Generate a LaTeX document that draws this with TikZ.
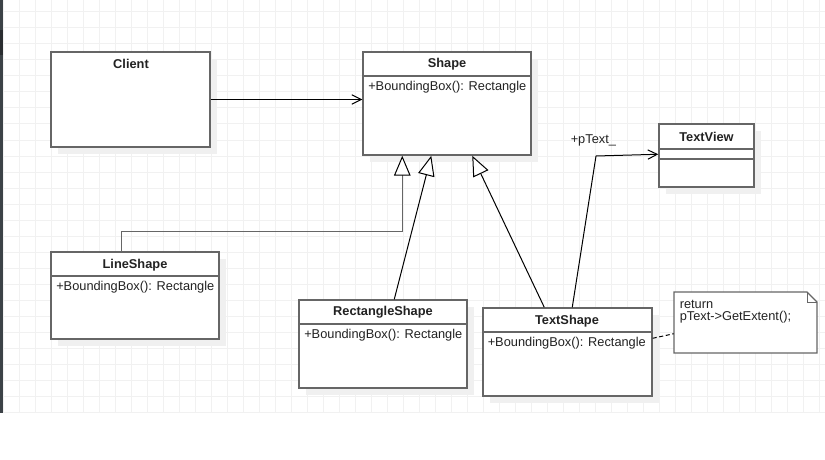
\documentclass[tikz,border=0pt]{standalone}
\usepackage{fontspec}
\setmainfont{Liberation Sans}
\usetikzlibrary{arrows.meta,calc,fit,shadows}
\definecolor{gridc}{HTML}{F1F1F1}
\definecolor{boxc}{HTML}{666666}
\definecolor{stripc}{HTML}{3C4247}
\definecolor{stripd}{HTML}{2A2D30}
\definecolor{txtc}{HTML}{222222}
\tikzset{
  umlbox/.style={draw=boxc, line width=1.1pt, fill=white, inner sep=0pt,
    drop shadow={shadow xshift=5.25pt, shadow yshift=-5.25pt, fill=black!6, opacity=1}},
  divider/.style={draw=boxc, line width=1.1pt},
  ttl/.style={font=\fontsize{9.6}{11}\selectfont\bfseries, text=txtc, inner sep=0pt},
  mem/.style={font=\fontsize{9.6}{11}\selectfont, text=txtc, inner sep=0pt, anchor=west},
  assoc/.style={draw=black, line width=0.75pt, -{Straight Barb[length=7pt,width=7pt]}},
  gen/.style={draw=black, line width=0.75pt, -{Triangle[open,length=15pt,width=12.5pt,fill=white,color=black,line width=0.75pt]}},
  gengray/.style={gen, draw=boxc, line width=1.1pt}
}
\begin{document}
\begin{tikzpicture}[x=0.75pt,y=-0.75pt]
\useasboundingbox (0,0) rectangle (825,460);
% grid background
\foreach \gx in {3,19,...,819} \draw[gridc, line width=0.75pt] (\gx,0) -- (\gx,412);
\foreach \gy in {12,28,...,412} \draw[gridc, line width=0.75pt] (0,\gy) -- (825,\gy);
\fill[stripc] (0,0) rectangle (3,413);
\fill[stripd] (0,30) rectangle (3,55);

% boxes
\node[umlbox, fit={(51,52) (210,147)}] (client) {};
\node[ttl] (clientT) at (131,64) {Client};

\node[umlbox, fit={(363,52) (531,155)}] (shape) {};
\draw[divider] (363,76) -- (531,76);
\node[ttl] (shapeT) at (447,64.5) {Shape};
\node[mem] (shapeM) at (368,87.5) {+BoundingBox(): Rectangle};

\node[umlbox, fit={(659,124) (754,187)}] (textview) {};
\draw[divider] (659,149) -- (754,149);
\draw[divider] (659,159) -- (754,159);
\node[ttl] (textviewT) at (706.5,136.5) {TextView};

\node[umlbox, fit={(51,252) (219,339)}] (lineshape) {};
\draw[divider] (51,276) -- (219,276);
\node[ttl] (lineshapeT) at (135,265) {LineShape};
\node[mem] (lineshapeM) at (56,287.5) {+BoundingBox(): Rectangle};

\node[umlbox, fit={(299,300) (467,388)}] (rectshape) {};
\draw[divider] (299,324) -- (467,324);
\node[ttl] (rectshapeT) at (383,312) {RectangleShape};
\node[mem] (rectshapeM) at (304,335) {+BoundingBox(): Rectangle};

\node[umlbox, fit={(483,308) (652,396)}] (textshape) {};
\draw[divider] (483,332) -- (652,332);
\node[ttl] (textshapeT) at (567,321) {TextShape};
\node[mem] (textshapeM) at (487.5,343.5) {+BoundingBox(): Rectangle};

% note
\node[inner sep=0pt, fit={(674,292) (817,353)}] (note) {};
\draw[draw=boxc, line width=1pt, fill=white] (674,292) -- (807,292) -- (817,302) -- (817,353) -- (674,353) -- cycle;
\draw[draw=boxc, line width=0.75pt] (807,292) -- (807,302) -- (817,302);
\node[mem] (noteL1) at (679.5,304.5) {return};
\node[mem] (noteL2) at (679.5,317.5) {pText->GetExtent();};

% connectors
\draw[assoc] (client.east) -- (shape.west |- client.east);
\draw[gengray] ($(lineshape.north west)+(71,0)$) -- ++(0,-20) -| ($(shape.south west)+(40,0)$);
\draw[gen] ($(rectshape.north west)+(96,0)$) -- ($(shape.south west)+(69,0)$);
\draw[gen] ($(textshape.north west)+(62,0)$) -- ($(shape.south west)+(110,0)$);
\coordinate (bend) at (596,156);
\draw[assoc] ($(textshape.north west)+(90,0)$) -- (bend) -- ($(textview.north west)+(0,31)$);
\node[mem] (ptext) at (570.5,140.5) {+pText\_};
\draw[draw=black, line width=0.75pt, dash pattern=on 3pt off 2pt] ($(textshape.north east)+(0,31)$) -- ($(note.north west)+(0,42)$);
\end{tikzpicture}
\end{document}
